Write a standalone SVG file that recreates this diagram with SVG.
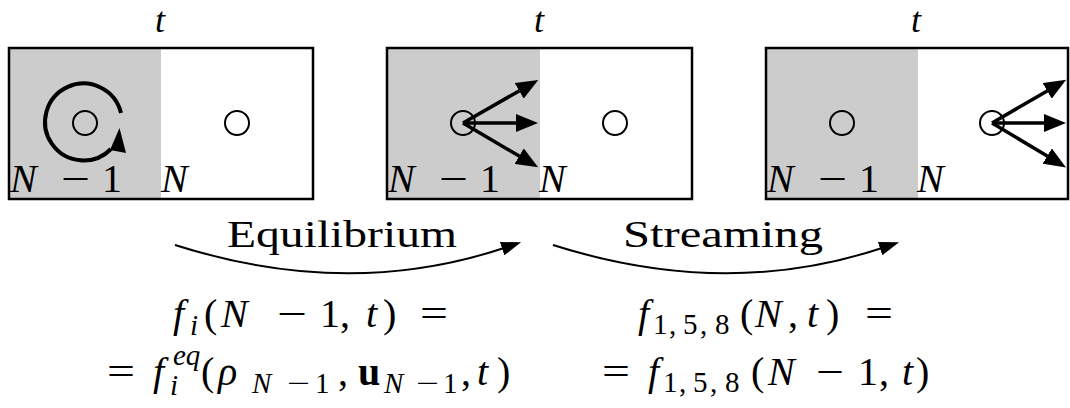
<svg xmlns="http://www.w3.org/2000/svg" width="1070" height="408" viewBox="0 0 1070 408">
<style>
.frame{fill:none;stroke:#000;stroke-width:2.5}
.shade{fill:#cccccc}
.node{fill:none;stroke:#000;stroke-width:2}
.arr{stroke:#000;stroke-width:3.5;fill:none}
.loop{stroke:#000;stroke-width:4;fill:none}
.flow{stroke:#000;stroke-width:2;fill:none}
text{font-family:"Liberation Serif","DejaVu Serif",serif;fill:#000;font-size:40px}
.it{font-style:italic}
.s{font-size:29px}
.b{font-weight:bold}
.top{font-size:36px}
.lbl{font-size:38px}
</style>
<defs>
<marker id="ah" markerUnits="userSpaceOnUse" markerWidth="24" markerHeight="18" refX="2" refY="9" orient="auto">
<path d="M0,0 L22,9 L0,18 z" fill="#000"/>
</marker>
<marker id="ah2" markerUnits="userSpaceOnUse" markerWidth="22" markerHeight="14" refX="2" refY="7" orient="auto">
<path d="M0,0 L20,7 L0,14 z" fill="#000"/>
</marker>
</defs>

<g id="panel1">
<rect class="shade" x="9" y="48" width="152" height="151"/>
<rect class="frame" x="9" y="48" width="304" height="151"/>
<circle class="node" cx="85" cy="123" r="12"/>
<circle class="node" cx="237" cy="123" r="12"/>
<path class="loop" d="M121,113 A38.5,38.5 0 1 0 111,149"/>
<polygon points="119.5,128 126,153 110,150" fill="#000"/>
<text class="it top" x="155" y="32">t</text>
<text class="it" x="10" y="192">N</text>
<text x="61" y="192" textLength="29" lengthAdjust="spacingAndGlyphs">−</text>
<text x="102" y="192">1</text>
<text class="it" x="161" y="192">N</text>
</g>

<g id="panel2">
<rect class="shade" x="387" y="48" width="153" height="151"/>
<rect class="frame" x="387" y="48" width="305" height="151"/>
<circle class="node" cx="463" cy="123" r="12"/>
<circle class="node" cx="615" cy="123" r="12"/>
<text class="it top" x="534" y="32">t</text>
<text class="it" x="388" y="192">N</text>
<text x="439" y="192" textLength="29" lengthAdjust="spacingAndGlyphs">−</text>
<text x="480" y="192">1</text>
<text class="it" x="539" y="192">N</text>
</g>

<g id="panel3">
<rect class="shade" x="766" y="48" width="152" height="151"/>
<rect class="frame" x="766" y="48" width="302" height="151"/>
<circle class="node" cx="842" cy="123" r="12"/>
<circle class="node" cx="992" cy="123" r="12"/>
<text class="it top" x="911" y="32">t</text>
<text class="it" x="767" y="192">N</text>
<text x="818" y="192" textLength="29" lengthAdjust="spacingAndGlyphs">−</text>
<text x="859" y="192">1</text>
<text class="it" x="917" y="192">N</text>
</g>

<g id="connectors">
<line class="arr" x1="463" y1="123" x2="520.9" y2="89.9" marker-end="url(#ah)"/>
<line class="arr" x1="463" y1="123" x2="518" y2="123" marker-end="url(#ah)"/>
<line class="arr" x1="463" y1="123" x2="520.9" y2="157.1" marker-end="url(#ah)"/>
<line class="arr" x1="992" y1="123" x2="1048.9" y2="89.9" marker-end="url(#ah)"/>
<line class="arr" x1="992" y1="123" x2="1046" y2="123" marker-end="url(#ah)"/>
<line class="arr" x1="992" y1="123" x2="1048.9" y2="157.1" marker-end="url(#ah)"/>
<path class="flow" d="M175,245 Q348,300 504,248" marker-end="url(#ah2)"/>
<path class="flow" d="M553,245 Q726,300 882,248" marker-end="url(#ah2)"/>
</g>

<g id="labels">
<text class="lbl" x="342" y="247" text-anchor="middle" textLength="230" lengthAdjust="spacingAndGlyphs">Equilibrium</text>
<text class="lbl" x="723" y="247" text-anchor="middle" textLength="200" lengthAdjust="spacingAndGlyphs">Streaming</text>
</g>

<g id="eq-left">
<text class="it" x="173" y="327">f</text>
<text class="it s" x="190" y="335">i</text>
<text x="204" y="327">(</text>
<text class="it" x="221" y="327">N</text>
<text x="277" y="327" textLength="30" lengthAdjust="spacingAndGlyphs">−</text>
<text x="320" y="327">1</text>
<text x="340" y="327">,</text>
<text class="it" x="366" y="327">t</text>
<text x="383" y="327">)</text>
<text x="420" y="327" textLength="28" lengthAdjust="spacingAndGlyphs">=</text>

<text x="107" y="385" textLength="28" lengthAdjust="spacingAndGlyphs">=</text>
<text class="it" x="153" y="385">f</text>
<text class="it s" x="170" y="395">i</text>
<text class="it s" x="173" y="365">eq</text>
<text x="201" y="385">(</text>
<text class="it" x="218" y="385">ρ</text>
<text class="it s" x="252" y="393">N</text>
<text class="s" x="287" y="393" textLength="23" lengthAdjust="spacingAndGlyphs">−</text>
<text class="s" x="315" y="393">1</text>
<text x="338" y="385">,</text>
<text class="b" x="358" y="385">u</text>
<text class="it s" x="384" y="393">N</text>
<text class="s" x="416" y="393" textLength="23" lengthAdjust="spacingAndGlyphs">−</text>
<text class="s" x="443" y="393">1</text>
<text x="461" y="385">,</text>
<text class="it" x="477" y="385">t</text>
<text x="497" y="385">)</text>
</g>

<g id="eq-right">
<text class="it" x="638" y="327">f</text>
<text class="s" x="653" y="334">1</text>
<text class="s" x="669" y="334">,</text>
<text class="s" x="683" y="334">5</text>
<text class="s" x="700" y="334">,</text>
<text class="s" x="715" y="334">8</text>
<text x="740" y="327">(</text>
<text class="it" x="755" y="327">N</text>
<text x="788" y="327">,</text>
<text class="it" x="807" y="327">t</text>
<text x="826" y="327">)</text>
<text x="865" y="327" textLength="28" lengthAdjust="spacingAndGlyphs">=</text>

<text x="602" y="385" textLength="28" lengthAdjust="spacingAndGlyphs">=</text>
<text class="it" x="648" y="385">f</text>
<text class="s" x="663" y="392">1</text>
<text class="s" x="679" y="392">,</text>
<text class="s" x="693" y="392">5</text>
<text class="s" x="710" y="392">,</text>
<text class="s" x="725" y="392">8</text>
<text x="751" y="385">(</text>
<text class="it" x="768" y="385">N</text>
<text x="816" y="385" textLength="28" lengthAdjust="spacingAndGlyphs">−</text>
<text x="858" y="385">1</text>
<text x="879" y="385">,</text>
<text class="it" x="902" y="385">t</text>
<text x="916" y="385">)</text>
</g>
</svg>
